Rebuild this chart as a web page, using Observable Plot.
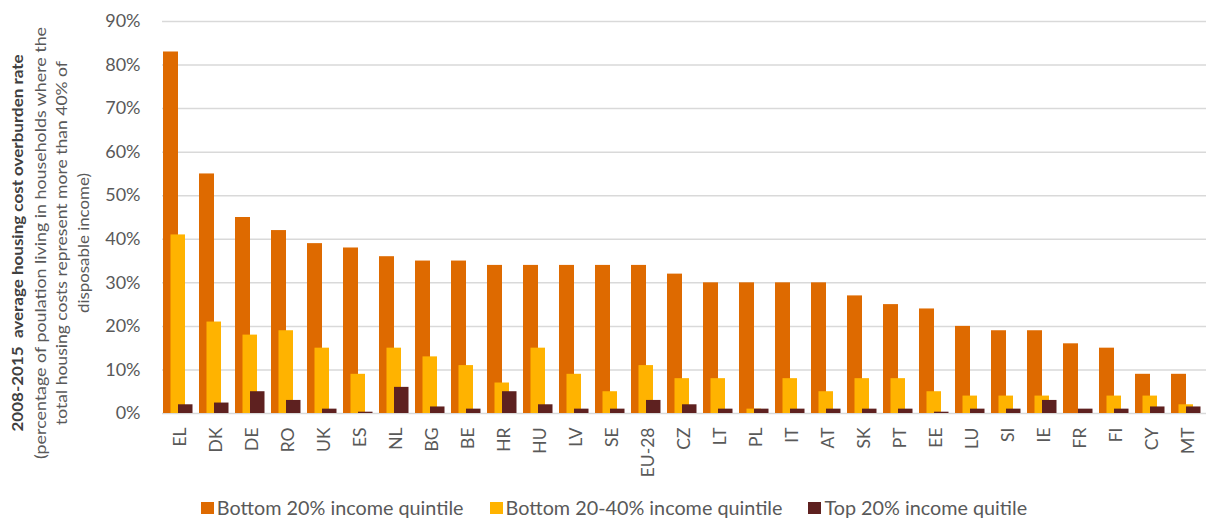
<!DOCTYPE html>
<html>
<head>
<meta charset="utf-8">
<script src="https://cdn.jsdelivr.net/npm/d3@7"></script>
<script src="https://cdn.jsdelivr.net/npm/@observablehq/plot@0.6"></script>
<style>
  body { margin: 0; background: #fff; }
  #chart { width: 1208px; height: 519px; overflow: hidden; font-family: Lato, "Open Sans", sans-serif; }
  .legend { display: flex; justify-content: center; align-items: center; height: 31px; box-sizing: border-box;
            padding-top: 8px; padding-left: 20px; font-size: 19.8px; color: #595959; line-height: 19px; }
  .legend .item { display: flex; align-items: center; margin: 0 13px; }
  .legend .sw { width: 13px; height: 12px; margin-right: 3px; }
</style>
</head>
<body>
<div id="chart"></div>
<script>
// ---- data ----
const countries = ["EL","DK","DE","RO","UK","ES","NL","BG","BE","HR","HU","LV","SE","EU-28","CZ","LT","PL","IT","AT","SK","PT","EE","LU","SI","IE","FR","FI","CY","MT"];
const bottom20   = [83,55,45,42,39,38,36,35,35,34,34,34,34,34,32,30,30,30,30,27,25,24,20,19,19,16,15,9,9];
const bottom2040 = [41,21,18,19,15,9,15,13,11,7,15,9,5,11,8,8,1,8,5,8,8,5,4,4,4,0,4,4,2];
const top20      = [2,2.4,5,3,1,0.3,6,1.5,1,5,2,1,1,3,2,1,1,1,1,1,1,0.3,1,1,3,1,1,1.5,1.5];
const seriesNames  = ["Bottom 20% income quintile","Bottom 20-40% income quintile","Top 20% income quitile"];
const seriesColors = ["#DE6A00","#FFB300","#5E2120"];
const yTicks = [0,10,20,30,40,50,60,70,80,90];
const titleLines = [
  "2008-2015  average housing cost overburden rate",
  "(percentage of poulation living in households where the",
  "total housing costs represent more than 40% of",
  "disposable income)"
];

const rows = vals => countries.map((c, i) => ({c, v: vals[i]}));

const H = 488;
const plot = Plot.plot({
  width: 1208,
  height: H,
  marginLeft: 162,
  marginRight: 2,
  marginTop: 21,
  marginBottom: H - 413,
  style: { fontFamily: "Lato, 'Open Sans', sans-serif", fontSize: "17px", color: "#595959", background: "#fff" },
  x: { domain: countries, padding: 0, label: null },
  y: { domain: [0, 90], label: null },
  marks: [
    Plot.ruleY(yTicks, { stroke: "#d9d9d9", strokeWidth: 1.5 }),
    Plot.barY(rows(bottom20),   { x: "c", y: "v", fill: seriesColors[0], insetLeft: 1,   insetRight: 20 }),
    Plot.barY(rows(bottom2040), { x: "c", y: "v", fill: seriesColors[1], insetLeft: 8.5, insetRight: 13 }),
    Plot.barY(rows(top20),      { x: "c", y: "v", fill: seriesColors[2], insetLeft: 16,  insetRight: 5.5 }),
    Plot.axisY({ ticks: yTicks, tickFormat: d => d + "%", tickSize: 0, tickPadding: 22, label: null, fontSize: 18 }),
    Plot.axisX({ tickSize: 0, tickRotate: -90, tickPadding: 14, label: null, fontSize: 17.5 })
  ]
});

// rotated y-axis title
const svg = d3.select(plot);
const tx = [23, 46, 67, 89];
const tlen = [377, 432, 364, 140];
titleLines.forEach((t, i) => {
  svg.append("text")
    .attr("transform", `translate(${tx[i]},243) rotate(-90)`)
    .attr("text-anchor", "middle")
    .attr("font-family", "Lato, 'Open Sans', sans-serif")
    .attr("font-size", 15.5)
    .attr("font-weight", i === 0 ? "bold" : "normal")
    .attr("fill", i === 0 ? "#404040" : "#595959")
    .attr("textLength", tlen[i])
    .attr("lengthAdjust", "spacingAndGlyphs")
    .style("white-space", "pre")
    .text(t);
});

const chart = document.getElementById("chart");
chart.appendChild(plot);

// legend
const legend = document.createElement("div");
legend.className = "legend";
seriesNames.forEach((n, i) => {
  const it = document.createElement("div");
  it.className = "item";
  const sw = document.createElement("span");
  sw.className = "sw";
  sw.style.background = seriesColors[i];
  const tx2 = document.createElement("span");
  tx2.textContent = n;
  it.appendChild(sw);
  it.appendChild(tx2);
  legend.appendChild(it);
});
chart.appendChild(legend);
</script>
</body>
</html>
